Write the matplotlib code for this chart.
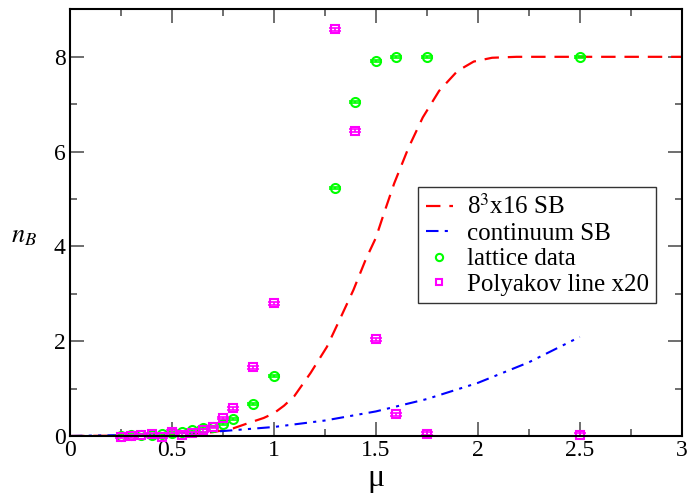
import matplotlib
matplotlib.use('Agg')
import matplotlib.pyplot as plt
from matplotlib.ticker import MultipleLocator

plt.rcParams['font.family'] = ['Liberation Serif', 'DejaVu Serif']
plt.rcParams['mathtext.fontset'] = 'stix'

# chemical potential grid of the simulations
mu = [0.25, 0.3, 0.35, 0.4, 0.45, 0.5, 0.55, 0.6, 0.65, 0.7, 0.75, 0.8,
      0.9, 1.0, 1.3, 1.4, 1.5, 1.6, 1.75, 2.5]
# baryon density from the lattice
n_lat = [0.01, 0.02, 0.02, 0.03, 0.04, 0.06, 0.09, 0.13, 0.16, 0.2, 0.25, 0.35,
         0.68, 1.27, 5.23, 7.05, 7.92, 8.0, 8.0, 8.0]
n_lat_err = [0.02] * len(mu)
# Polyakov line (scaled by 20)
poly = [-0.02, -0.01, 0.02, 0.04, -0.02, 0.09, 0.03, 0.06, 0.12, 0.19, 0.38, 0.58,
        1.45, 2.80, 8.58, 6.44, 2.04, 0.46, 0.05, 0.03]
poly_err = [0.03] * len(mu)

# Stefan-Boltzmann on the 8^3x16 lattice
mu_sb = [0.0, 0.2, 0.4, 0.5, 0.6, 0.7, 0.8, 0.88, 0.95, 1.0, 1.05, 1.1, 1.18,
         1.26, 1.32, 1.39, 1.45, 1.5, 1.54, 1.59, 1.66, 1.73, 1.81, 1.9, 1.98,
         2.07, 2.19, 2.4, 3.0]
n_sb = [0.0, 0.005, 0.015, 0.03, 0.05, 0.08, 0.16, 0.28, 0.38, 0.48, 0.64, 0.84, 1.33,
        1.88, 2.43, 3.08, 3.72, 4.18, 4.70, 5.33, 6.08, 6.72, 7.28, 7.70, 7.90,
        7.98, 8.0, 8.0, 8.0]

# continuum Stefan-Boltzmann
mu_cont = [0.0, 0.25, 0.5, 0.75, 1.0, 1.25, 1.5, 1.75, 2.0, 2.25, 2.5]
n_cont = [0.0, 0.019, 0.05, 0.104, 0.19, 0.326, 0.518, 0.779, 1.12, 1.554, 2.09]

fig = plt.figure(figsize=(6.9, 4.96), dpi=100)
ax = fig.add_axes([0.1014, 0.121, 0.8866, 0.86])

ax.plot(mu_sb, n_sb, color='#ff0000', lw=1.6, dashes=(6.5, 4), label=r'8$^3$x16 SB')
ax.plot(mu_cont, n_cont, color='#0000ff', lw=1.5, dashes=(6, 3, 1.5, 3, 1.5, 3),
        label='continuum SB')

ax.errorbar(mu, n_lat, yerr=n_lat_err, fmt='none', ecolor='#00ff00', elinewidth=1.2,
            capsize=4.5, capthick=1.2, clip_on=False)
ax.plot(mu, n_lat, 'o', ms=6.5, mfc='none', mec='#00ff00', mew=1.5, ls='none',
        label='lattice data', clip_on=False)
ax.errorbar(mu, poly, yerr=poly_err, fmt='none', ecolor='#ff00ff', elinewidth=1.2,
            capsize=4.5, capthick=1.2, clip_on=False)
ax.plot(mu, poly, 's', ms=6, mfc='none', mec='#ff00ff', mew=1.5, ls='none',
        label='Polyakov line x20', clip_on=False)

ax.set_xlim(0, 3)
ax.set_ylim(0, 9)
ax.xaxis.set_major_locator(MultipleLocator(0.5))
ax.xaxis.set_minor_locator(MultipleLocator(0.25))
ax.yaxis.set_major_locator(MultipleLocator(2))
ax.yaxis.set_minor_locator(MultipleLocator(1))
ax.set_xticks([0, 0.5, 1, 1.5, 2, 2.5, 3], ['0', '0.5', '1', '1.5', '2', '2.5', '3'])
ax.tick_params(which='both', direction='in', top=True, right=True, colors='#555555',
               labelcolor='black', labelsize=17, width=1.2)
ax.tick_params(which='major', length=10, pad=3)
ax.tick_params(which='minor', length=5)
for s in ax.spines.values():
    s.set_linewidth(1.5)

ax.set_xlabel('μ', fontsize=23, labelpad=2)
ax.set_ylabel(r'$n_B$', fontsize=19, rotation=0, labelpad=18)
ax.yaxis.set_label_coords(-0.075, 0.44)

leg = ax.legend(loc='upper left', bbox_to_anchor=(0.569, 0.584), borderaxespad=0,
                fontsize=18, frameon=True, fancybox=False, edgecolor='black',
                handlelength=1.1, handletextpad=0.55, labelspacing=0.12,
                borderpad=0.3, markerscale=0.8)
leg.get_frame().set_linewidth(1.0)

fig.savefig('out.png', dpi=100)
